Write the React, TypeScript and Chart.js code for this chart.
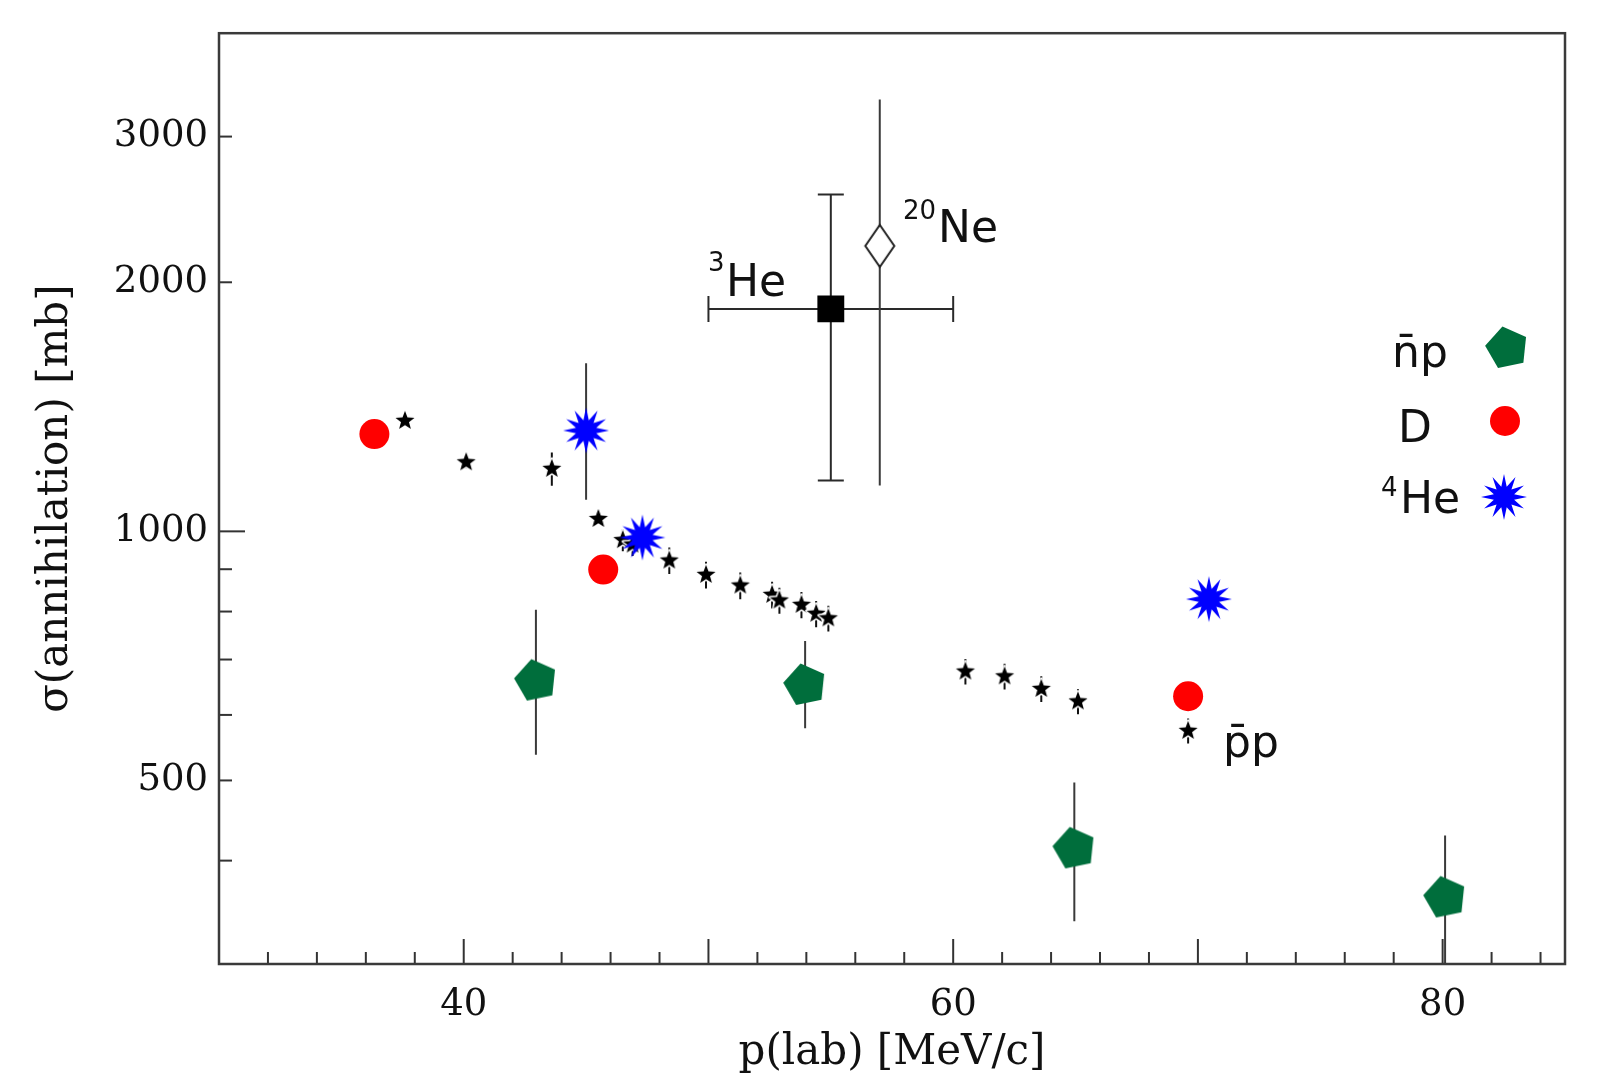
import React, { useEffect, useRef } from 'react';
import { Chart, registerables } from 'chart.js';

Chart.register(...registerables);

// p(lab) [MeV/c] vs sigma(annihilation) [mb]
const pbarpX = [37.6, 40.1, 43.6, 45.5, 46.5, 46.9, 48.4, 49.9, 51.3, 52.6, 52.9, 53.8, 54.4, 54.9, 60.5, 62.1, 63.6, 65.1, 69.6];
const pbarpY = [1360, 1212, 1190, 1035, 976, 964, 922, 886, 860, 838, 825, 815, 795, 785, 677, 668, 645, 623, 574];
const pbarpErr = [12, 20, 55, 15, 30, 30, 34, 33, 32, 31, 30, 30, 29, 28, 24, 24, 23, 22, 20];

const nbarpX = [42.95, 53.95, 64.95, 80.1];
const nbarpY = [662, 654, 415, 362];
const nbarpLo = [537, 578, 338, 280];
const nbarpHi = [804, 737, 497, 429];

const deutX = [36.35, 45.7, 69.6];
const deutY = [1311, 899, 632];

const he4X = [45.0, 47.3, 70.45];
const he4Y = [1324, 983, 828];
const he4Lo = [1092, 983, 828];
const he4Hi = [1596, 983, 828];

const he3X = [55];
const he3Y = [1857];
const he3XLo = [50];
const he3XHi = [60];
const he3YLo = [1152];
const he3YHi = [2554];

const neX = [57.0];
const neY = [2213];
const neLo = [1136];
const neHi = [3325];

const xTicks = [32, 34, 36, 38, 40, 42, 44, 46, 48, 50, 52, 54, 56, 58, 60, 62, 64, 66, 68, 70, 72, 74, 76, 78, 80, 82, 84];
const xLabeled = [40, 60, 80];
const yTicks = [400, 500, 600, 700, 800, 900, 1000, 2000, 3000];
const yLabeled = [500, 1000, 2000, 3000];

const SERIF = '"DejaVu Serif", serif';
const SANS = '"DejaVu Sans", sans-serif';

function makeCanvas(w: number, h: number, draw: (ctx: CanvasRenderingContext2D) => void) {
  const c = document.createElement('canvas');
  c.width = w;
  c.height = h;
  draw(c.getContext('2d') as CanvasRenderingContext2D);
  return c;
}

function starPath(ctx: CanvasRenderingContext2D, cx: number, cy: number, n: number, ro: number, ri: number, start: number) {
  ctx.beginPath();
  for (let k = 0; k < n * 2; k++) {
    const r = k % 2 === 0 ? ro : ri;
    const a = start + (k * Math.PI) / n;
    const px = cx + r * Math.cos(a);
    const py = cy + r * Math.sin(a);
    if (k === 0) ctx.moveTo(px, py);
    else ctx.lineTo(px, py);
  }
  ctx.closePath();
}

function makeMarkers() {
  const smallStar = makeCanvas(28, 28, (ctx) => {
    starPath(ctx, 14, 14, 5, 10, 4.2, -Math.PI / 2);
    ctx.strokeStyle = '#fff';
    ctx.lineWidth = 3;
    ctx.lineJoin = 'round';
    ctx.stroke();
    ctx.fillStyle = '#000';
    ctx.fill();
  });
  const blueStar = makeCanvas(50, 50, (ctx) => {
    starPath(ctx, 25, 25, 12, 23, 10.5, -Math.PI / 2);
    ctx.fillStyle = '#0000ff';
    ctx.fill();
  });
  const pentagon = makeCanvas(50, 50, (ctx) => {
    ctx.beginPath();
    for (let k = 0; k < 5; k++) {
      const a = -((102 + 72 * k) * Math.PI) / 180;
      const px = 25 + 22 * Math.cos(a);
      const py = 26 + 22 * Math.sin(a);
      if (k === 0) ctx.moveTo(px, py);
      else ctx.lineTo(px, py);
    }
    ctx.closePath();
    ctx.fillStyle = '#006e3c';
    ctx.fill();
  });
  const diamond = makeCanvas(36, 48, (ctx) => {
    ctx.beginPath();
    ctx.moveTo(18, 3);
    ctx.lineTo(32.5, 24);
    ctx.lineTo(18, 45);
    ctx.lineTo(3.5, 24);
    ctx.closePath();
    ctx.fillStyle = '#fff';
    ctx.fill();
    ctx.strokeStyle = '#222';
    ctx.lineWidth = 2;
    ctx.stroke();
  });
  return { smallStar, blueStar, pentagon, diamond };
}

const errorBarPlugin = {
  id: 'errorBars',
  beforeDatasetsDraw(chart: any) {
    const { ctx, chartArea, scales } = chart;
    const xs = scales.x;
    const ys = scales.y;
    ctx.save();
    ctx.beginPath();
    ctx.rect(chartArea.left, chartArea.top, chartArea.width, chartArea.height);
    ctx.clip();
    const seg = (x0: number, y0: number, x1: number, y1: number) => {
      ctx.beginPath();
      ctx.moveTo(x0, y0);
      ctx.lineTo(x1, y1);
      ctx.stroke();
    };
    chart.data.datasets.forEach((ds: any) => {
      const eb = ds.errorBar;
      if (!eb) return;
      ctx.strokeStyle = eb.color;
      ctx.lineWidth = eb.width;
      ds.data.forEach((p: any) => {
        const px = xs.getPixelForValue(p.x);
        const py = ys.getPixelForValue(p.y);
        if (p.yMin != null && p.yMax != null && p.yMin !== p.yMax) {
          const y0 = ys.getPixelForValue(p.yMin);
          const y1 = ys.getPixelForValue(p.yMax);
          seg(px, y0, px, y1);
          if (eb.cap) {
            seg(px - eb.cap / 2, y0, px + eb.cap / 2, y0);
            seg(px - eb.cap / 2, y1, px + eb.cap / 2, y1);
          }
        }
        if (p.xMin != null && p.xMax != null) {
          const x0 = xs.getPixelForValue(p.xMin);
          const x1 = xs.getPixelForValue(p.xMax);
          seg(x0, py, x1, py);
          if (eb.cap) {
            seg(x0, py - eb.cap / 2, x0, py + eb.cap / 2);
            seg(x1, py - eb.cap / 2, x1, py + eb.cap / 2);
          }
        }
      });
    });
    ctx.restore();
  },
};

const frameTicksPlugin = {
  id: 'frameTicks',
  beforeDatasetsDraw(chart: any) {
    const { ctx, chartArea, scales } = chart;
    const { left, right, top, bottom } = chartArea;
    ctx.save();
    ctx.strokeStyle = '#333';
    ctx.lineWidth = 2;
    scales.x.ticks.forEach((t: any) => {
      const px = scales.x.getPixelForValue(t.value);
      const len = t.value % 10 === 0 ? 25 : 12;
      ctx.beginPath();
      ctx.moveTo(px, bottom);
      ctx.lineTo(px, bottom - len);
      ctx.stroke();
    });
    scales.y.ticks.forEach((t: any) => {
      const py = scales.y.getPixelForValue(t.value);
      const len = t.value === 1000 ? 26 : 13;
      ctx.beginPath();
      ctx.moveTo(left, py);
      ctx.lineTo(left + len, py);
      ctx.stroke();
    });
    ctx.lineWidth = 2.5;
    ctx.strokeStyle = '#3a3a3a';
    ctx.strokeRect(left, top, right - left, bottom - top);
    ctx.restore();
  },
};

function makeLabelPlugin(markers: any) {
  return {
    id: 'labels',
    afterDatasetsDraw(chart: any) {
      const { ctx } = chart;
      ctx.save();
      ctx.fillStyle = '#111';
      ctx.textBaseline = 'alphabetic';
      ctx.textAlign = 'left';
      const big = '44px ' + SANS;
      const sup = '26px ' + SANS;

      // in-plot annotations
      ctx.font = sup;
      ctx.fillText('3', 708, 271);
      ctx.font = big;
      ctx.fillText('He', 726, 296);
      ctx.font = sup;
      ctx.fillText('20', 903, 219);
      ctx.font = big;
      ctx.fillText('Ne', 938, 242);
      ctx.fillText('p\u0304p', 1223, 757);

      // legend
      ctx.fillText('n\u0304p', 1392, 367);
      ctx.fillText('D', 1398, 442);
      ctx.font = sup;
      ctx.fillText('4', 1381, 496);
      ctx.font = big;
      ctx.fillText('He', 1400, 513);

      const pg = markers.pentagon;
      ctx.drawImage(pg, 1507 - pg.width / 2, 347 - pg.height / 2);
      ctx.beginPath();
      ctx.arc(1505, 421, 15, 0, Math.PI * 2);
      ctx.fillStyle = '#ff0000';
      ctx.fill();
      const bs = markers.blueStar;
      ctx.drawImage(bs, 1504 - bs.width / 2, 497 - bs.height / 2);
      ctx.restore();
    },
  };
}

const App = () => {
  const canvasRef = useRef<HTMLCanvasElement>(null);

  useEffect(() => {
    const ctx: any = canvasRef.current && canvasRef.current.getContext('2d');
    const markers = makeMarkers();

    const datasets: any[] = [
      {
        label: 'pbar p',
        data: pbarpX.map((x, i) => ({ x, y: pbarpY[i], yMin: pbarpY[i] - pbarpErr[i], yMax: pbarpY[i] + pbarpErr[i] })),
        pointStyle: markers.smallStar,
        pointRadius: 10,
        errorBar: { color: '#111', width: 2, cap: 0 },
        order: 5,
      },
      {
        label: 'nbar p',
        data: nbarpX.map((x, i) => ({ x, y: nbarpY[i], yMin: nbarpLo[i], yMax: nbarpHi[i] })),
        pointStyle: markers.pentagon,
        pointRadius: 20,
        errorBar: { color: '#3a3a3a', width: 2, cap: 0 },
        order: 4,
      },
      {
        label: 'D',
        data: deutX.map((x, i) => ({ x, y: deutY[i] })),
        pointStyle: 'circle',
        pointRadius: 15,
        backgroundColor: '#ff0000',
        borderWidth: 0,
        order: 3,
      },
      {
        label: '4He',
        data: he4X.map((x, i) => ({ x, y: he4Y[i], yMin: he4Lo[i], yMax: he4Hi[i] })),
        pointStyle: markers.blueStar,
        pointRadius: 22,
        errorBar: { color: '#3a3a3a', width: 2, cap: 0 },
        order: 2,
      },
      {
        label: '3He',
        data: he3X.map((x, i) => ({ x, y: he3Y[i], xMin: he3XLo[i], xMax: he3XHi[i], yMin: he3YLo[i], yMax: he3YHi[i] })),
        pointStyle: 'rect',
        pointRadius: 19,
        backgroundColor: '#000',
        borderWidth: 0,
        errorBar: { color: '#2a2a2a', width: 2, cap: 26 },
        order: 1,
      },
      {
        label: '20Ne',
        data: neX.map((x, i) => ({ x, y: neY[i], yMin: neLo[i], yMax: neHi[i] })),
        pointStyle: markers.diamond,
        pointRadius: 20,
        errorBar: { color: '#3a3a3a', width: 2, cap: 0 },
        order: 0,
      },
    ];

    const config: any = {
      type: 'scatter',
      data: { datasets },
      options: {
        responsive: false,
        animation: false,
        events: [],
        layout: { padding: { left: 0, top: 29, right: 41, bottom: 0 } },
        plugins: {
          legend: { display: false },
          tooltip: { enabled: false },
        },
        scales: {
          x: {
            type: 'linear',
            min: 30,
            max: 85,
            grid: { display: false, drawTicks: false },
            border: { display: false },
            afterBuildTicks: (scale: any) => {
              scale.ticks = xTicks.map((v) => ({ value: v }));
            },
            afterFit: (scale: any) => {
              scale.height = 128;
            },
            ticks: {
              autoSkip: false,
              maxRotation: 0,
              padding: 19,
              color: '#111',
              font: { family: SERIF, size: 37 },
              callback: (v: number) => (xLabeled.includes(v) ? String(v) : ''),
            },
            title: {
              display: true,
              text: 'p(lab) [MeV/c]',
              color: '#111',
              font: { family: SERIF, size: 42 },
              padding: { top: 0, bottom: 14 },
            },
          },
          y: {
            type: 'logarithmic',
            min: 300,
            max: 4000,
            grid: { display: false, drawTicks: false },
            border: { display: false },
            afterBuildTicks: (scale: any) => {
              scale.ticks = yTicks.map((v) => ({ value: v }));
            },
            afterFit: (scale: any) => {
              scale.width = 219;
            },
            ticks: {
              autoSkip: false,
              padding: 11,
              color: '#111',
              font: { family: SERIF, size: 37 },
              callback: (v: number) => (yLabeled.includes(v) ? String(v) : ''),
            },
            title: {
              display: true,
              text: 'σ(annihilation) [mb]',
              color: '#111',
              font: { family: SERIF, size: 42 },
              padding: { top: 31, bottom: 0 },
            },
          },
        },
      },
      plugins: [frameTicksPlugin, errorBarPlugin, makeLabelPlugin(markers)],
    };

    const chart = new Chart(ctx, config);

    return () => {
      chart.destroy();
    };
  }, []);

  return (
    <div style={{ position: 'absolute', left: 0, top: 0, width: '1606px', height: '1092px', background: '#fff' }}>
      <canvas ref={canvasRef} width={1606} height={1092} style={{ width: '1606px', height: '1092px' }}></canvas>
    </div>
  );
};

export default App;
